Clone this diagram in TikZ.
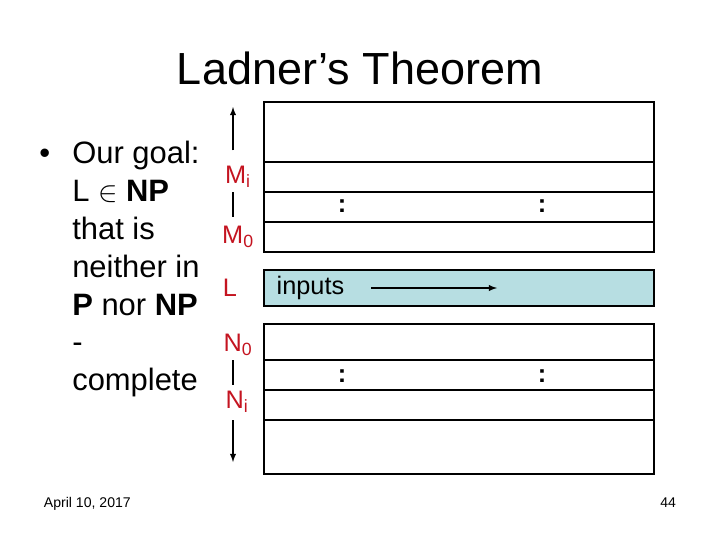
\documentclass[tikz,border=0pt]{standalone}
\usepackage{fontspec}
\setmainfont{Liberation Sans}
\definecolor{labelred}{RGB}{196,20,32}
\definecolor{rowblue}{RGB}{183,222,226}
\tikzset{
  rowlabel/.style={text=labelred, font=\fontsize{18}{20}\selectfont, inner sep=1pt},
  colondots/.style={font=\fontsize{18}{18}\selectfont\bfseries, inner sep=0pt},
  rowline/.style={black, line width=1pt},
}
\begin{document}
\begin{tikzpicture}[x=0.025cm, y=-0.025cm]
            \useasboundingbox (0,0) rectangle (720,540);
            \node[anchor=base, font=\fontsize{32}{36}\selectfont] (title) at (360,84) {Ladner’s Theorem};

            \node[anchor=base west, font=\fontsize{22}{26}\selectfont, inner sep=0pt] (bullet) at (39,163) {\textbullet};
            \node[anchor=north west, align=left, font=\fontsize{22}{26.9}\selectfont, inner sep=0pt] (goal) at (72,141)
                {Our goal:\\ L $\in$ \textbf{NP}\\ that is\\ neither in\\ \textbf{P} nor \textbf{NP}\\ -\\ complete};

            \draw[rowline] (264,102) rectangle (654,252);
            \foreach \y in {162,192,222}
                \draw[rowline] (264,\y) -- (654,\y);
            \filldraw[rowline, fill=rowblue] (264,270) rectangle (654,306);
            \draw[rowline] (264,324) rectangle (654,474);
            \foreach \y in {360,390,420}
                \draw[rowline] (264,\y) -- (654,\y);

            \node[colondots] (dotMa) at (342,206) {:};
            \node[colondots] (dotMb) at (542,206) {:};
            \node[colondots] (dotNa) at (342,376) {:};
            \node[colondots] (dotNb) at (542,376) {:};

            \node[rowlabel] (Mi) at (238,177) {M\textsubscript{i}};
            \node[rowlabel] (M0) at (238,237) {M\textsubscript{0}};
            \node[rowlabel] (L) at (230,288) {L};
            \node[rowlabel] (N0) at (238,345) {N\textsubscript{0}};
            \node[rowlabel] (Ni) at (237,402) {N\textsubscript{i}};
            \coordinate (uptip) at (233,107);
            \coordinate (downtip) at (233,462);

            \draw[rowline, -latex, shorten <=10pt] (Mi.north -| uptip) -- (uptip);
            \draw[rowline, shorten <=2pt, shorten >=5pt] (Mi.south -| uptip) -- (M0.north -| uptip);
            \draw[rowline, shorten <=2pt, shorten >=3pt] (N0.south -| uptip) -- (Ni.north -| uptip);
            \draw[rowline, -latex, shorten <=4pt] (Ni.south -| downtip) -- (downtip);

            \node[rowlabel, text=black, anchor=west] (inputs) at (275,288) {inputs};
            \coordinate (inhead) at (497,288);
            \draw[rowline, -latex, shorten <=18pt] (inputs.east) -- (inhead);

            \node[anchor=base west, font=\fontsize{10}{12}\selectfont] (date) at (39,507) {April 10, 2017};
            \node[anchor=base east, font=\fontsize{10}{12}\selectfont] (page) at (681,507) {44};
        \end{tikzpicture}
\end{document}
